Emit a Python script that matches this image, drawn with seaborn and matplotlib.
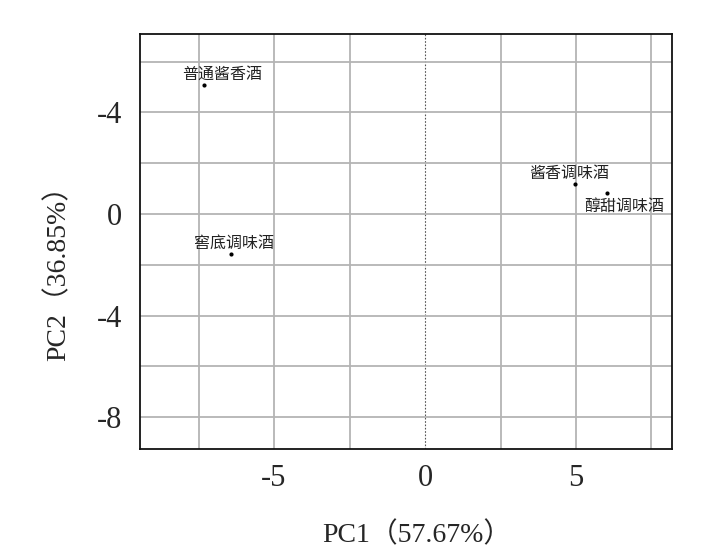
import matplotlib
matplotlib.use("Agg")
import matplotlib.pyplot as plt
import pandas as pd
import seaborn as sns
from matplotlib.ticker import MultipleLocator, FixedLocator

# PCA scores
samples = ["普通酱香酒", "窖底调味酒", "酱香调味酒", "醇甜调味酒"]
pc1 = [-7.32, -6.42, 4.97, 6.03]
pc2 = [5.08, -1.57, 1.18, 0.83]
y_tick_values = [-8, -4, 0, 4]
y_tick_labels = ["-8", "-4", "0", "-4"]
x_tick_values = [-5, 0, 5]
x_tick_labels = ["-5", "0", "5"]

df = pd.DataFrame({"sample": samples, "PC1": pc1, "PC2": pc2})

# label offsets (pixels) for each sample name
label_offsets = {
    "普通酱香酒": (18, 11),
    "窖底调味酒": (3, 11),
    "酱香调味酒": (-6, 11),
    "醇甜调味酒": (17, -13),
}

sns.set_style("white")
serif = ["Liberation Serif", "Noto Sans CJK SC"]
cjk = ["Noto Sans CJK SC", "DejaVu Sans"]

fig = plt.figure(figsize=(7.15, 5.51), dpi=100)
ax = fig.add_axes([0.1958, 0.1851, 0.9399 - 0.1958, 0.9383 - 0.1851])

sns.scatterplot(data=df, x="PC1", y="PC2", color="black", s=9,
                edgecolor="black", linewidth=0, ax=ax, zorder=3)

for _, row in df.iterrows():
    dx, dy = label_offsets[row["sample"]]
    ax.annotate(row["sample"], (row["PC1"], row["PC2"]),
                xytext=(dx, dy), textcoords="offset pixels",
                ha="center", va="center", fontsize=11.5,
                family=cjk, color="#222222", zorder=4)

ax.set_xlim(-9.44, 8.18)
ax.set_ylim(-9.25, 7.09)

ax.xaxis.set_major_locator(FixedLocator(x_tick_values))
ax.set_xticklabels(x_tick_labels)
ax.yaxis.set_major_locator(FixedLocator(y_tick_values))
ax.set_yticklabels(y_tick_labels)
ax.xaxis.set_minor_locator(MultipleLocator(2.5))
ax.yaxis.set_minor_locator(MultipleLocator(2))

ax.grid(True, which="both", color="#b4b4b4", linewidth=1.3)
ax.set_axisbelow(True)
# the x = 0 line is drawn dotted
for val, gl in zip(x_tick_values, ax.get_xgridlines()):
    if val == 0:
        gl.set_linestyle((0, (1.5, 1.5)))
        gl.set_color("#555555")
        gl.set_linewidth(0.8)

ax.tick_params(axis="both", which="major", direction="out", length=4,
               width=1, color="#333333", labelsize=22)
ax.tick_params(axis="x", which="major", pad=7)
ax.tick_params(axis="y", which="major", pad=9)
ax.tick_params(axis="both", which="minor", length=0)
for lab in ax.get_xticklabels() + ax.get_yticklabels():
    lab.set_family(serif)

for side in ["top", "right", "left", "bottom"]:
    ax.spines[side].set_color("#111111")
    ax.spines[side].set_linewidth(1.3)

ax.set_xlabel("PC1（57.67%）", fontsize=20, family=serif)
ax.set_ylabel("PC2（36.85%）", fontsize=20, family=serif)
ax.xaxis.set_label_coords(0.52, -0.175)
ax.yaxis.set_label_coords(-0.128, 0.44)

fig.savefig("out.png", dpi=100)
